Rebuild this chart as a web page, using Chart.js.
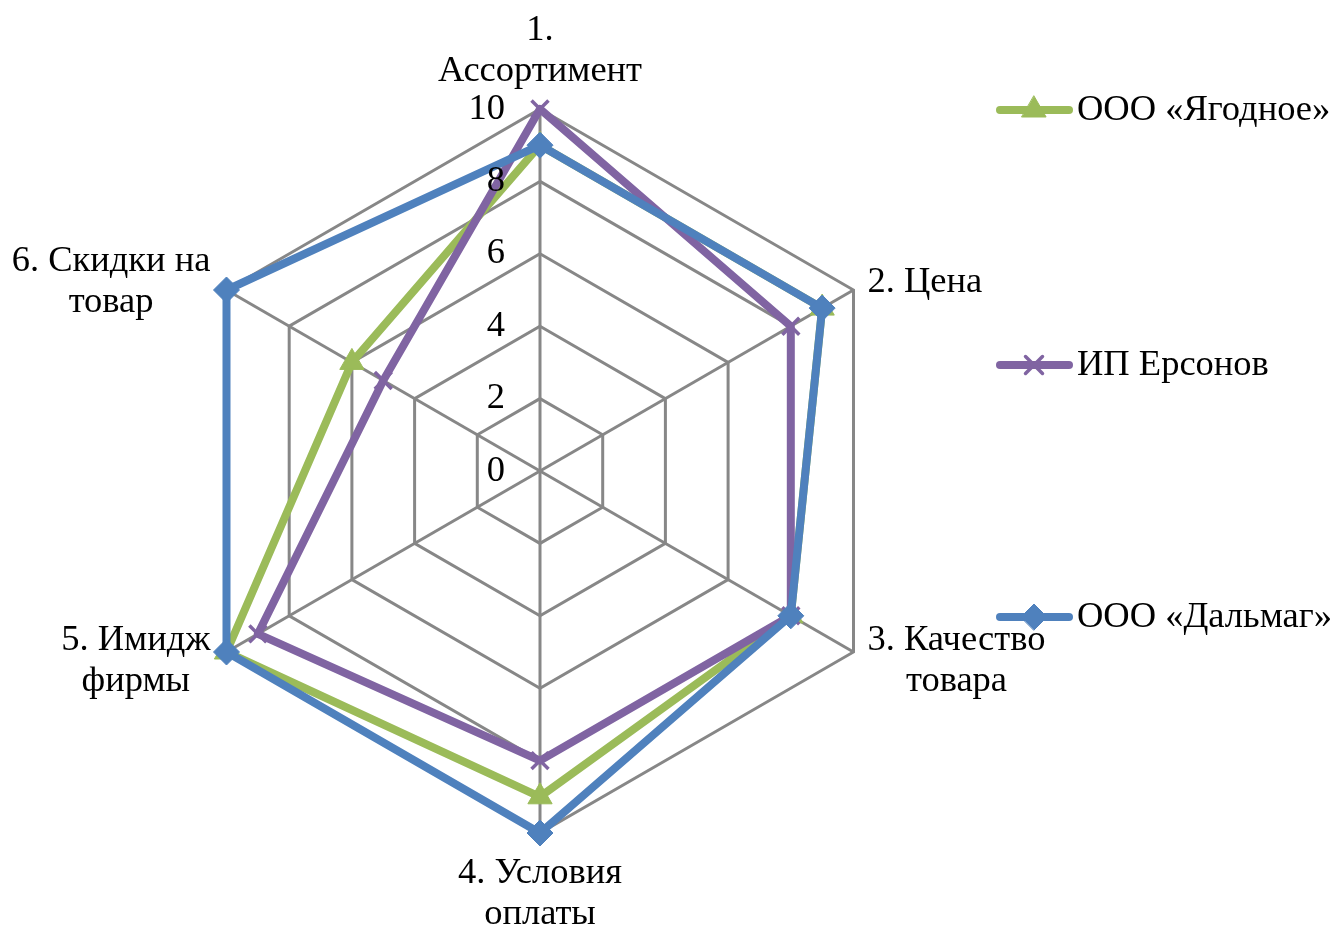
<!DOCTYPE html>
<html lang="ru">
<head>
<meta charset="utf-8">
<title>Конкурентный профиль</title>
<script src="https://cdn.jsdelivr.net/npm/chart.js@4.4.1/dist/chart.umd.min.js"></script>
<style>
  html, body { margin: 0; padding: 0; background: #fff; }
  #wrap { position: relative; width: 1340px; height: 928px; }
</style>
</head>
<body>
<div id="wrap"><canvas id="radar" width="1340" height="928"></canvas></div>
<script>
const categories = [['1.', 'Ассортимент'], ['2. Цена'], ['3. Качество', 'товара'], ['4. Условия', 'оплаты'], ['5. Имидж', 'фирмы'], ['6. Скидки на', 'товар']];
const seriesNames = ['ООО «Ягодное»', 'ИП Ерсонов', 'ООО «Дальмаг»'];
const yagodnoe = [9, 9, 8, 9, 10, 6];
const ersonov  = [10, 8, 8, 8, 9, 5];
const dalmag   = [9, 9, 8, 10, 10, 10];
const tickValues = [0, 2, 4, 6, 8, 10];

const FONT = '36.5px "Liberation Serif", "Times New Roman", serif';
const LINE_H = 41;
const colors = ['#9BBB59', '#8064A2', '#4F81BD'];
const marks  = ['triangle', 'crossRot', 'rectRot'];
const markSize = [14, 12, 13];
const legendY = [110, 365, 617];

// ticks, category labels and legend drawn Excel-style
const excelLabels = {
  id: 'excelLabels',
  afterDraw(chart) {
    const ctx = chart.ctx, r = chart.scales.r;
    ctx.save();
    ctx.font = FONT; ctx.fillStyle = '#000'; ctx.textBaseline = 'middle';

    ctx.textAlign = 'right';
    tickValues.forEach(v => {
      const p = r.getPointPositionForValue(0, v);
      ctx.fillText(String(v), p.x - 35, p.y);
    });

    ctx.textAlign = 'center';
    categories.forEach((lines, i) => {
      const p = r.getPointPosition(i, r.drawingArea);
      const dx = p.x - r.xCenter, dy = p.y - r.yCenter;
      const h = lines.length * LINE_H;
      const w = Math.max(...lines.map(s => ctx.measureText(s).width));
      let cx, cy;
      if (Math.abs(dx) < 1) { cx = p.x; cy = dy < 0 ? p.y - 17 - h / 2 : p.y + 20 + h / 2; }
      else { cx = dx > 0 ? p.x + 14 + w / 2 : p.x - 16 - w / 2; cy = p.y + (dy < 0 ? -8 : 9); }
      lines.forEach((s, k) => ctx.fillText(s, cx, cy - h / 2 + LINE_H / 2 + k * LINE_H));
    });

    seriesNames.forEach((name, i) => {
      const y = legendY[i];
      ctx.strokeStyle = colors[i]; ctx.fillStyle = colors[i];
      ctx.lineWidth = 8; ctx.lineCap = 'round';
      ctx.beginPath(); ctx.moveTo(1000, y); ctx.lineTo(1069, y); ctx.stroke();
      ctx.lineWidth = i === 1 ? 3.5 : 1;
      Chart.helpers.drawPoint(ctx, { pointStyle: marks[i], radius: markSize[i], borderWidth: ctx.lineWidth, rotation: 0 }, 1034, y);
      ctx.fillStyle = '#000'; ctx.textAlign = 'left';
      ctx.fillText(name, 1077, y);
    });
    ctx.restore();
  }
};

function ds(i, data, order) {
  return {
    label: seriesNames[i], data, order,
    borderColor: colors[i], backgroundColor: colors[i],
    borderWidth: 8, borderJoinStyle: 'round', fill: false,
    pointStyle: marks[i], pointRadius: markSize[i],
    pointBorderColor: colors[i], pointBackgroundColor: colors[i],
    pointBorderWidth: i === 1 ? 3.5 : 1
  };
}

new Chart(document.getElementById('radar'), {
  type: 'radar',
  data: {
    labels: categories,
    datasets: [ds(0, yagodnoe, 2), ds(1, ersonov, 1), ds(2, dalmag, 0)]
  },
  options: {
    responsive: false, animation: false, events: [],
    layout: { padding: { left: 178, right: 438, top: 109, bottom: 95 } },
    plugins: { legend: { display: false }, tooltip: { enabled: false } },
    scales: {
      r: {
        min: 0, max: 10,
        ticks: { stepSize: 2, display: false },
        grid: { color: '#878787', lineWidth: 3 },
        angleLines: { color: '#878787', lineWidth: 3 },
        pointLabels: { display: false }
      }
    }
  },
  plugins: [excelLabels]
});
</script>
</body>
</html>
